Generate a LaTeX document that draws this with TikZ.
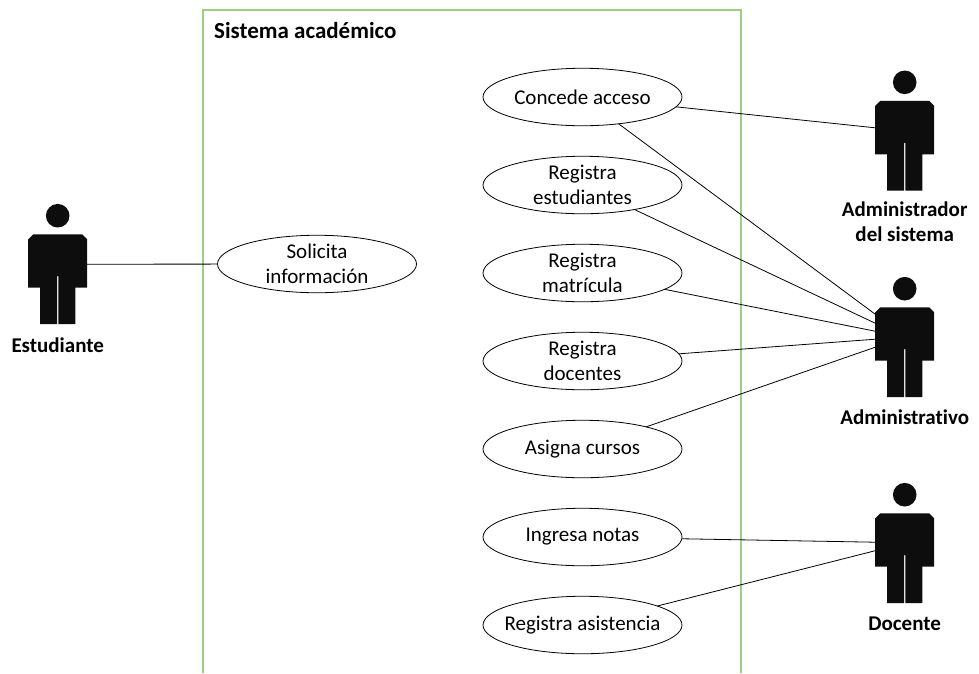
\documentclass[tikz,border=0pt]{standalone}
\usepackage{fontspec}
\setmainfont[Ligatures=CommonOff]{Carlito}
\usetikzlibrary{shapes.geometric, positioning, calc}

\begin{document}
\begin{tikzpicture}[
    x=1pt, y=-1pt,
    every node/.style={font=\fontsize{21}{24.7}\selectfont},
    usecase/.style={ellipse, draw=black, line width=0.8pt, minimum width=199pt, minimum height=57.5pt, inner xsep=-12pt, inner ysep=-4pt, outer sep=0pt, align=center},
    rolename/.style={font=\fontsize{21}{24.7}\selectfont\bfseries, align=center, inner sep=0pt},
    assoc/.style={draw=black, line width=0.8pt},
    frameline/.style={draw=frameGreen, line width=1.2pt},
    actor/.pic={
        \fill[actorBlack] (0,0) circle (11.8);
        \fill[actorBlack] (-24.5,18.6) -- (24.5,18.6) -- (29.5,23.6) -- (29.5,72) -- (17.7,72) -- (17.7,48)
            -- (17.7,108.3) -- (0.7,108.3) -- (0.7,60.5) -- (-0.7,60.5) -- (-0.7,108.3) -- (-17.7,108.3)
            -- (-17.7,48) -- (-17.7,72) -- (-29.5,72) -- (-29.5,23.6) -- cycle;
        \node[minimum width=59pt, minimum height=89.7pt, inner sep=0pt, outer sep=0pt] (-body) at (0,63.5) {};
    }
]
\definecolor{frameGreen}{HTML}{9BD080}
\definecolor{actorBlack}{HTML}{0D0D0D}
\useasboundingbox (0,0) rectangle (979,673);

% System frame
\draw[frameline] (203,673) -- (203,10) -- (741,10) -- (741,673);
\node[rolename, anchor=west, font=\fontsize{23}{24.7}\selectfont\bfseries] (sistema) at (214,31) {Sistema académico};

% Use cases
\node[usecase] (solicita) at (317,264) {Solicita\\información};
\node[usecase] (concede) at (582.5,97) {Concede acceso};
\node[usecase, below=30.5pt of concede] (estudiantes) {Registra\\estudiantes};
\node[usecase, below=30.5pt of estudiantes] (matricula) {Registra\\matrícula};
\node[usecase, below=30.5pt of matricula] (docentes) {Registra\\docentes};
\node[usecase, below=30.5pt of docentes] (asigna) {Asigna cursos};
\node[usecase, below=30.5pt of asigna] (notas) {Ingresa notas};
\node[usecase, below=30.5pt of notas] (asistencia) {Registra asistencia};

% Actors
\pic (estudiante) at (57.7,215.7) {actor};
\pic (adminsis) at (904.7,82.3) {actor};
\pic (administrativo) at (904.7,288.7) {actor};
\pic (docente) at (904.7,494.7) {actor};

% Actor names
\node[rolename, below=13.5pt of estudiante-body] (estudiante-name) {Estudiante};
\node[rolename, below=11pt of adminsis-body] (adminsis-name) {Administrador\\del sistema};
\node[rolename, below=13pt of administrativo-body] (administrativo-name) {Administrativo};
\node[rolename, below=13.5pt of docente-body] (docente-name) {Docente};

% Associations
\draw[assoc] (solicita) -- ($(estudiante-body.east)+(0,-15)$);
\draw[assoc] (concede) -- ($(adminsis-body.west)+(0,-18)$);
\foreach \usecase/\dy in {concede/-38, estudiantes/-29, matricula/-21, docentes/-13, asigna/-5}
    \draw[assoc] (\usecase) -- ($(administrativo-body.west)+(0,\dy)$);
\draw[assoc] (notas) -- ($(docente-body.west)+(0,-16)$);
\draw[assoc] (asistencia) -- ($(docente-body.west)+(0,-7.5)$);

\end{tikzpicture}
\end{document}
